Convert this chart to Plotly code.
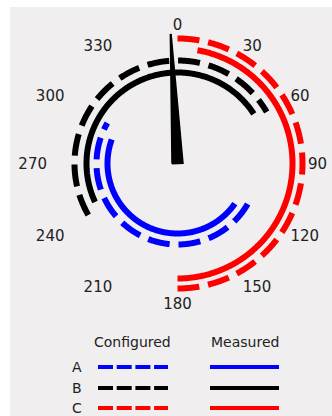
import numpy as np
import plotly.graph_objects as go

# Phase rotation diagram: configured vs measured phase sectors
phases = ["A", "B", "C"]
phase_colors = ["#0000ff", "#000000", "#ff0000"]

# sector limits in degrees, clockwise from north
configured_start = [120, 240, 0]
configured_end = [300, 60, 180]
measured_start = [125, 245, 10]
measured_end = [290, 57, 180]

needle_angle = 357

angle_ticks = list(range(0, 360, 30))
angle_labels = [str(a) for a in angle_ticks]

# ---- layout constants (pixels) ----
W, H = 332, 416
CX, CY = 177.5, 163.5          # centre of the dial
R = 130                        # radial range == pixel radius
ring_configured = [81, 103, 125]
ring_measured = [70, 91, 115]
needle_len = 138.5
needle_half_base = 5.5
ARC_W = 6
ARC_DASH = "22px,8.9px"
TEXT = "#222222"
FONT = "DejaVu Sans"


def arc(start, end):
    if end < start:
        end += 360
    n = int(abs(end - start)) * 2 + 1
    return np.linspace(start, end, n)


fig = go.Figure()

for i, name in enumerate(phases):
    th = arc(configured_start[i], configured_end[i])
    fig.add_trace(go.Scatterpolar(
        r=[ring_configured[i]] * len(th), theta=th, mode="lines",
        line=dict(color=phase_colors[i], width=ARC_W, dash=ARC_DASH),
        name=f"{name} configured", hoverinfo="skip"))
    th = arc(measured_start[i], measured_end[i])
    fig.add_trace(go.Scatterpolar(
        r=[ring_measured[i]] * len(th), theta=th, mode="lines",
        line=dict(color=phase_colors[i], width=ARC_W),
        name=f"{name} measured", hoverinfo="skip"))

# needle: tapered wedge from the centre
fig.add_trace(go.Scatterpolar(
    r=[needle_half_base, needle_len, needle_half_base, needle_half_base],
    theta=[needle_angle - 90, needle_angle, needle_angle + 90, needle_angle - 90],
    mode="lines", fill="toself", fillcolor="#000000",
    line=dict(color="#000000", width=1.5), cliponaxis=False,
    hoverinfo="skip", name="needle"))

# ---- key below the dial (pixel coordinates on a hidden axis pair) ----
KEY_ROWS = [367, 388, 408]
KEY_LETTER_X = 77
KEY_DASH_X = [98, 168]
KEY_SOLID_X = [210, 279]
KEY_HEAD_Y = 342
for i, name in enumerate(phases):
    y = KEY_ROWS[i]
    fig.add_trace(go.Scatter(
        x=KEY_DASH_X, y=[y, y], mode="lines", xaxis="x", yaxis="y",
        line=dict(color=phase_colors[i], width=4, dash="15px,3.7px"),
        hoverinfo="skip", showlegend=False))
    fig.add_trace(go.Scatter(
        x=KEY_SOLID_X, y=[y, y], mode="lines", xaxis="x", yaxis="y",
        line=dict(color=phase_colors[i], width=4),
        hoverinfo="skip", showlegend=False))
    fig.add_annotation(x=KEY_LETTER_X, y=y, xref="x", yref="y", text=name,
                       showarrow=False, font=dict(family=FONT, size=14, color=TEXT))

fig.add_annotation(x=np.mean(KEY_DASH_X) - 1, y=KEY_HEAD_Y, xref="x", yref="y",
                   text="Configured", showarrow=False,
                   font=dict(family=FONT, size=14, color=TEXT))
fig.add_annotation(x=np.mean(KEY_SOLID_X), y=KEY_HEAD_Y, xref="x", yref="y",
                   text="Measured", showarrow=False,
                   font=dict(family=FONT, size=14, color=TEXT))

fig.update_layout(
    width=W, height=H, margin=dict(l=0, r=0, t=0, b=0),
    paper_bgcolor="white", plot_bgcolor="rgba(0,0,0,0)", showlegend=False,
    polar=dict(
        domain=dict(x=[(CX - R) / W, (CX + R) / W],
                    y=[1 - (CY + R) / H, 1 - (CY - R) / H]),
        bgcolor="rgba(0,0,0,0)",
        radialaxis=dict(visible=False, range=[0, R]),
        angularaxis=dict(rotation=90, direction="clockwise", tickmode="array",
                         tickvals=angle_ticks, ticktext=angle_labels,
                         showgrid=False, showline=False, ticks="",
                         tickfont=dict(family=FONT, size=15, color=TEXT)),
    ),
    xaxis=dict(domain=[0, 1], range=[0, W], visible=False, fixedrange=True),
    yaxis=dict(domain=[0, 1], range=[H, 0], visible=False, fixedrange=True),
    shapes=[dict(type="rect", xref="paper", yref="paper", x0=10 / W, x1=1,
                 y0=0, y1=1 - 7 / H, fillcolor="#f0eeef",
                 line=dict(width=0), layer="below")],
)

fig.write_html("out.html")
